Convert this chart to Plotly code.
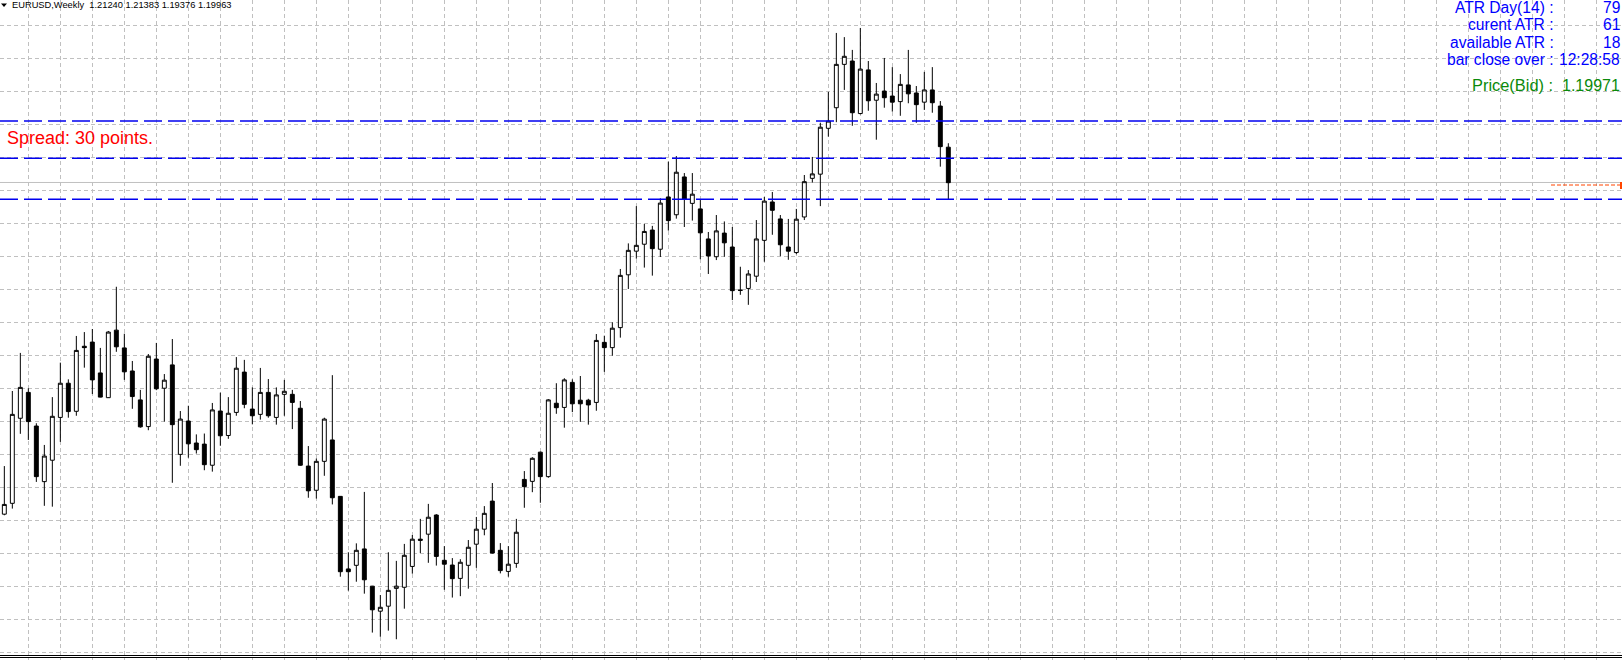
import plotly.graph_objects as go

W, H = 1622, 660

# ---- data (EURUSD weekly candles) ----
bar_index = list(range(119))
opens = [1.0804, 1.0843, 1.1149, 1.1242, 1.1121, 1.0921, 1.0998, 1.1152, 1.1275, 1.1174,
         1.1408, 1.1423, 1.1312, 1.1223, 1.1466, 1.1402, 1.1319, 1.1215, 1.1119, 1.1362,
         1.1257, 1.1341, 1.1019, 1.1139, 1.1060, 1.1056, 1.0980, 1.1175, 1.1087, 1.1170,
         1.1315, 1.1182, 1.1163, 1.1242, 1.1152, 1.1235, 1.1235, 1.1185, 1.0977, 1.0890,
         1.0994, 1.1071, 1.0868, 1.0607, 1.0620, 1.0679, 1.0545, 1.0455, 1.0473, 1.0537,
         1.0541, 1.0616, 1.0714, 1.0732, 1.0801, 1.0638, 1.0621, 1.0573, 1.0620, 1.0696,
         1.0750, 1.0851, 1.0674, 1.0598, 1.0627, 1.0929, 1.0922, 1.1027, 1.0939, 1.1203,
         1.1188, 1.1278, 1.1214, 1.1214, 1.1206, 1.1422, 1.1403, 1.1475, 1.1665, 1.1750,
         1.1775, 1.1826, 1.1757, 1.1945, 1.1881, 1.2017, 1.1922, 1.1902, 1.1794, 1.1730,
         1.1815, 1.1765, 1.1610, 1.1616, 1.1660, 1.1789, 1.1927, 1.1866, 1.1765, 1.1745,
         1.1873, 1.2012, 1.2027, 1.2192, 1.2266, 1.2422, 1.2434, 1.2245, 1.2402, 1.2293,
         1.2326, 1.2308, 1.2288, 1.2348, 1.2319, 1.2286, 1.2330, 1.2272, 1.21240]
highs = [1.0977, 1.1247, 1.1384, 1.1257, 1.1131, 1.1053, 1.1225, 1.1349, 1.1289, 1.1445,
         1.1459, 1.1470, 1.1402, 1.1463, 1.1622, 1.1453, 1.1355, 1.1251, 1.1380, 1.1420,
         1.1308, 1.1434, 1.1175, 1.1194, 1.1091, 1.1094, 1.1204, 1.1241, 1.1225, 1.1369,
         1.1359, 1.1260, 1.1330, 1.1290, 1.1260, 1.1287, 1.1251, 1.1211, 1.1049, 1.1004,
         1.1151, 1.1304, 1.0869, 1.0667, 1.0699, 1.0884, 1.0546, 1.0513, 1.0667, 1.0636,
         1.0697, 1.0729, 1.0787, 1.0841, 1.0804, 1.0689, 1.0646, 1.0642, 1.0711, 1.0794,
         1.0833, 1.0916, 1.0700, 1.0689, 1.0787, 1.0959, 1.1009, 1.1029, 1.1218, 1.1275,
         1.1293, 1.1289, 1.1301, 1.1219, 1.1452, 1.1446, 1.1494, 1.1686, 1.1778, 1.1912,
         1.1848, 1.1841, 1.1940, 1.2072, 1.2092, 1.2031, 1.2031, 1.1934, 1.1819, 1.1880,
         1.1857, 1.1837, 1.1694, 1.1682, 1.1862, 1.1945, 1.1963, 1.1880, 1.1866, 1.1902,
         1.2024, 1.2089, 1.2212, 1.2323, 1.2535, 1.2520, 1.2474, 1.2553, 1.2434, 1.2355,
         1.2445, 1.2412, 1.2387, 1.2474, 1.2344, 1.2395, 1.2412, 1.2290, 1.21383]
lows = [1.0800, 1.0824, 1.1093, 1.1071, 1.0920, 1.0834, 1.0831, 1.1064, 1.1151, 1.1158,
        1.1331, 1.1236, 1.1224, 1.1222, 1.1388, 1.1287, 1.1183, 1.1115, 1.1106, 1.1250,
        1.1137, 1.0917, 1.0978, 1.1007, 1.1022, 1.0962, 1.0957, 1.1050, 1.1075, 1.1158,
        1.1185, 1.1127, 1.1144, 1.1151, 1.1126, 1.1158, 1.1110, 1.0978, 1.0863, 1.0860,
        1.0942, 1.0839, 1.0579, 1.0529, 1.0561, 1.0518, 1.0378, 1.0363, 1.0385, 1.0354,
        1.0464, 1.0590, 1.0664, 1.0629, 1.0619, 1.0532, 1.0504, 1.0509, 1.0536, 1.0611,
        1.0728, 1.0662, 1.0591, 1.0579, 1.0611, 1.0827, 1.0883, 1.0845, 1.0935, 1.1165,
        1.1115, 1.1171, 1.1136, 1.1126, 1.1176, 1.1316, 1.1374, 1.1439, 1.1614, 1.1723,
        1.1691, 1.1662, 1.1729, 1.1824, 1.1867, 1.1837, 1.1860, 1.1721, 1.1668, 1.1718,
        1.1730, 1.1574, 1.1593, 1.1557, 1.1639, 1.1712, 1.1809, 1.1732, 1.1719, 1.1739,
        1.1862, 1.1997, 1.1912, 1.2162, 1.2214, 1.2330, 1.2201, 1.2242, 1.2255, 1.2151,
        1.2266, 1.2252, 1.2237, 1.2282, 1.2212, 1.2258, 1.2248, 1.2054, 1.19376]
closes = [1.0839, 1.1163, 1.1260, 1.1137, 1.0939, 1.1013, 1.1156, 1.1275, 1.1173, 1.1393,
          1.1403, 1.1287, 1.1225, 1.1459, 1.1406, 1.1316, 1.1227, 1.1118, 1.1372, 1.1255,
          1.1286, 1.1126, 1.1146, 1.1057, 1.1036, 1.0982, 1.1179, 1.1086, 1.1167, 1.1329,
          1.1199, 1.1158, 1.1242, 1.1158, 1.1233, 1.1246, 1.1206, 1.0980, 1.0888, 1.0994,
          1.1146, 1.0863, 1.0597, 1.0597, 1.0674, 1.0568, 1.0460, 1.0469, 1.0530, 1.0545,
          1.0656, 1.0714, 1.0710, 1.0793, 1.0652, 1.0624, 1.0572, 1.0631, 1.0685, 1.0750,
          1.0807, 1.0664, 1.0601, 1.0624, 1.0739, 1.0903, 1.1005, 1.0939, 1.1215, 1.1187,
          1.1287, 1.1201, 1.1201, 1.1197, 1.1429, 1.1403, 1.1473, 1.1663, 1.1753, 1.1771,
          1.1821, 1.1759, 1.1923, 1.1860, 1.2034, 1.1937, 1.1955, 1.1816, 1.1733, 1.1823,
          1.1780, 1.1608, 1.1609, 1.1668, 1.1794, 1.1930, 1.1897, 1.1773, 1.1750, 1.1865,
          1.2000, 1.2028, 1.2196, 1.2218, 1.2422, 1.2451, 1.2248, 1.2405, 1.2291, 1.2315,
          1.2302, 1.2286, 1.2350, 1.2316, 1.2277, 1.2330, 1.2284, 1.2126, 1.19963]

# horizontal levels drawn on the chart
blue_levels = [1.2218, 1.2084, 1.1937]
bid_price = 1.19971
marker_level = 1.1988

header_text = "EURUSD,Weekly  1.21240 1.21383 1.19376 1.19963"
spread_text = "Spread: 30 points."
atr_labels = ["ATR Day(14) :", "curent ATR :", "available ATR :", "bar close over :"]
atr_values = ["79", "61", "18", "12:28:58"]
price_label = "Price(Bid) :"
price_value = "1.19971"

# ---- view ----
Y_TOP, Y_BOT = 1.26535, 1.027941
X_LEFT, X_RIGHT = -0.5413, 202.21
GRID_Y0, GRID_DY = 1.030711, 0.0118704


def px(x):
    return x / W


def py(y):
    return 1 - y / H


fig = go.Figure()
fig.add_trace(go.Candlestick(
    x=bar_index, open=opens, high=highs, low=lows, close=closes,
    increasing=dict(line=dict(color="black", width=1), fillcolor="white"),
    decreasing=dict(line=dict(color="black", width=1), fillcolor="black"),
    whiskerwidth=0, showlegend=False, hoverinfo="skip",
))

shapes = []
for lv in blue_levels:
    shapes.append(dict(type="line", xref="paper", yref="y", x0=0, x1=1, y0=lv, y1=lv,
                       line=dict(color="#0000f0", width=1.4, dash="18px,6px"), layer="above"))
shapes.append(dict(type="line", xref="paper", yref="y", x0=0, x1=1, y0=bid_price, y1=bid_price,
                   line=dict(color="#c0c0c0", width=1), layer="below"))
shapes.append(dict(type="line", xref="paper", yref="y", x0=px(1551), x1=px(1621), y0=marker_level,
                   y1=marker_level, line=dict(color="#ff4500", width=1, dash="4px,2px")))
shapes.append(dict(type="line", xref="paper", yref="paper", x0=px(1621), x1=px(1621), y0=py(182),
                   y1=py(189), line=dict(color="#ff4500", width=2)))
# bottom double border
for yy in (655.5, 657.5):
    shapes.append(dict(type="line", xref="paper", yref="paper", x0=0, x1=1, y0=py(yy), y1=py(yy),
                       line=dict(color="black", width=1)))
# small triangle in header
shapes.append(dict(type="path", xref="paper", yref="paper",
                   path=f"M {px(1)} {py(3.5)} L {px(7)} {py(3.5)} L {px(4)} {py(7)} Z",
                   fillcolor="black", line=dict(color="black", width=0)))

FONT = "Liberation Sans, Arial, sans-serif"
ann = []
ann.append(dict(text=header_text, x=px(9.5), y=py(5.2), xref="paper", yref="paper",
                xanchor="left", yanchor="middle", showarrow=False,
                font=dict(family=FONT, size=9.3, color="black")))
ann.append(dict(text=spread_text, x=px(4.5), y=py(137.7), xref="paper", yref="paper",
                xanchor="left", yanchor="middle", showarrow=False,
                font=dict(family=FONT, size=18, color="#ff0000")))
row_centers = [7.0, 24.6, 42.8, 59.6]
for lab, val, yc in zip(atr_labels, atr_values, row_centers):
    ann.append(dict(text=lab, x=px(1555.5), y=py(yc), xref="paper", yref="paper",
                    xanchor="right", yanchor="middle", showarrow=False,
                    font=dict(family=FONT, size=15.6, color="#0000ff")))
    ann.append(dict(text=val, x=px(1621.5), y=py(yc), xref="paper", yref="paper",
                    xanchor="right", yanchor="middle", showarrow=False,
                    font=dict(family=FONT, size=15.6, color="#0000ff")))
ann.append(dict(text=price_label, x=px(1555), y=py(85.0), xref="paper", yref="paper",
                xanchor="right", yanchor="middle", showarrow=False,
                font=dict(family=FONT, size=16.4, color="#0a8a0a")))
ann.append(dict(text=price_value, x=px(1621.5), y=py(85.0), xref="paper", yref="paper",
                xanchor="right", yanchor="middle", showarrow=False,
                font=dict(family=FONT, size=16.0, color="#0a8a0a")))

fig.update_layout(
    width=W, height=H, margin=dict(l=0, r=0, t=0, b=0),
    paper_bgcolor="white", plot_bgcolor="white",
    shapes=shapes, annotations=ann, showlegend=False,
    xaxis=dict(range=[X_LEFT, X_RIGHT], rangeslider=dict(visible=False),
               tickmode="linear", tick0=3, dtick=4, showgrid=True, gridcolor="#c0c0c0",
               griddash="4px,3px", gridwidth=1, showticklabels=False, ticks="",
               zeroline=False, showline=False, fixedrange=True),
    yaxis=dict(range=[Y_BOT, Y_TOP], tickmode="linear", tick0=GRID_Y0, dtick=GRID_DY,
               showgrid=True, gridcolor="#c0c0c0", griddash="4px,3px", gridwidth=1,
               showticklabels=False, ticks="", zeroline=False, showline=False, fixedrange=True),
)

fig.write_html("out.html")
